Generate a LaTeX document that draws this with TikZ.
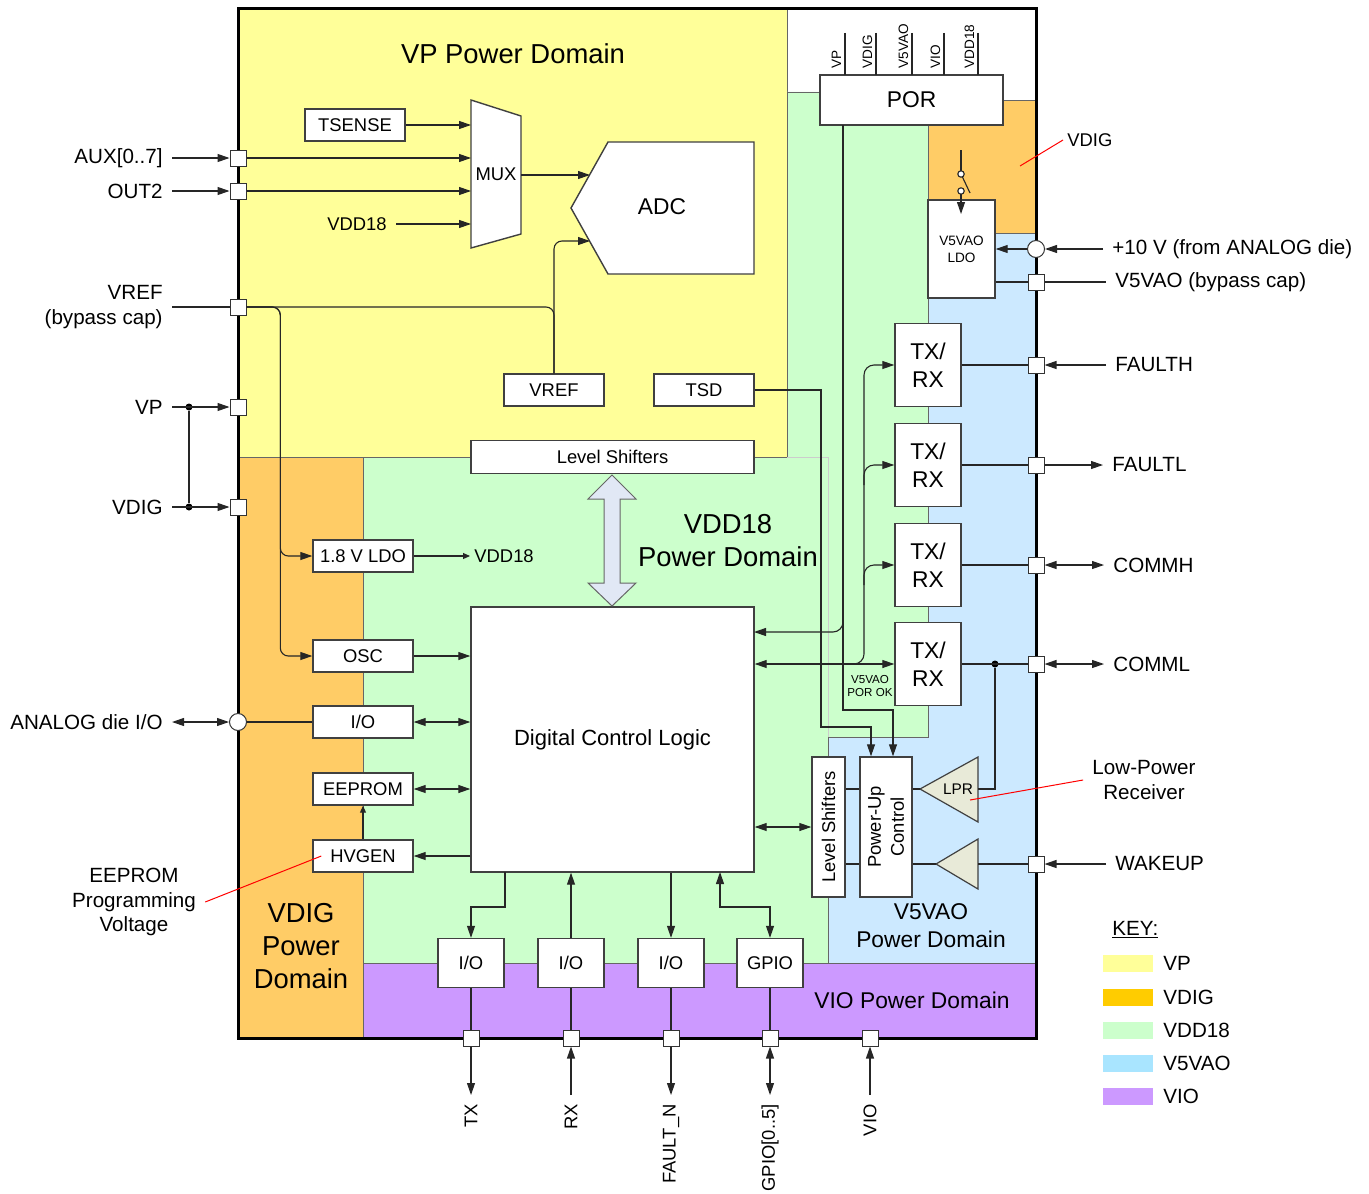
\documentclass[tikz,border=0pt]{standalone}
\usepackage{fontspec}
\setmainfont{Liberation Sans}
\usetikzlibrary{arrows.meta,calc}

\definecolor{vpY}{HTML}{FFFF99}
\definecolor{vdigO}{HTML}{FFCC66}
\definecolor{vdigK}{HTML}{FFCC00}
\definecolor{vddG}{HTML}{CCFFCC}
\definecolor{vfiveB}{HTML}{CCE9FF}
\definecolor{vfiveK}{HTML}{A9E5FF}
\definecolor{vioP}{HTML}{CC99FF}
\definecolor{lsArrow}{HTML}{E1E8F5}
\definecolor{lprFill}{HTML}{E8EAD8}

\newcommand{\szBox}{\fontsize{9.2pt}{11.5pt}\selectfont}
\newcommand{\szLbl}{\fontsize{10.3pt}{12.4pt}\selectfont}
\newcommand{\szBig}{\fontsize{13.7pt}{16.5pt}\selectfont}
\newcommand{\szMid}{\fontsize{11.4pt}{14pt}\selectfont}
\newcommand{\szDcl}{\fontsize{11pt}{13pt}\selectfont}
\newcommand{\szTiny}{\fontsize{6.8pt}{8.5pt}\selectfont}
\newcommand{\szMicro}{\fontsize{5.8pt}{6.6pt}\selectfont}
\newcommand{\szLpr}{\fontsize{7.7pt}{9pt}\selectfont}

\begin{document}
\begin{tikzpicture}[x=0.5pt, y=-0.5pt,
  >={Triangle[length=6pt,width=4pt]},
  wire/.style={line width=0.55pt, black!85},
  box/.style={draw=black!75, fill=white, line width=0.7pt, inner sep=0pt,
    font=\szBox, minimum width=50pt, minimum height=16pt, align=center},
  pad/.style={draw=black!80, fill=white, line width=0.5pt, inner sep=0pt, minimum size=8pt},
  cpad/.style={pad, circle, minimum size=8.5pt},
  lbl/.style={font=\szLbl, inner sep=4.5pt, align=center},
  zone/.style={draw=black!60, line width=0.4pt},
  swatch/.style={minimum width=25pt, minimum height=8.5pt, inner sep=0pt},
  redline/.style={red, line width=0.5pt},
  jdot/.style={circle, fill=black, inner sep=0pt, minimum size=3.5pt},
  small tip/.style={-{Triangle[length=3.5pt,width=3pt]}}
]
  \useasboundingbox (0,0) rectangle (1369,1193);

  % Power domains
  \fill[white] (238,9) rectangle (1036,1038);
  \filldraw[zone, fill=vpY] (238,9) rectangle (787,457);
  \filldraw[zone, fill=vddG] (363,457) -- (787,457) -- (787,92) -- (928,92) -- (928,737)
    -- (828,737) -- (828,963) -- (363,963) -- cycle;
  \filldraw[zone, fill=vdigO] (928,100) rectangle (1036,233);
  \filldraw[zone, fill=vdigO] (238,457) rectangle (363,1038);
  \filldraw[zone, fill=vfiveB] (928,233) -- (1036,233) -- (1036,963) -- (828,963)
    -- (828,737) -- (928,737) -- cycle;
  \filldraw[zone, fill=vioP] (363,963) rectangle (1036,1038);
  \draw[black!20] (787,457) -- (828,457) -- (828,737);
  \draw[line width=1.5pt] (238,9) rectangle (1036,1038);

  % Domain titles
  \node[font=\szBig] (tVP) at (513,54) {VP Power Domain};
  \node[font=\szBig, align=center] (tVDD) at (728,541) {VDD18\\Power Domain};
  \node[font=\szBig, align=center] (tVDIG) at (301,946) {VDIG\\Power\\Domain};
  \node[font=\szMid, align=center] (tVFIVE) at (931,926) {V5VAO\\Power Domain};
  \node[font=\szMid] (tVIO) at (912,1000) {VIO Power Domain};

  % MUX and ADC
  \filldraw[draw=black!75, fill=white, line width=0.7pt]
    (471,100) -- (521,116) -- (521,234) -- (471,248) -- cycle;
  \node[font=\szBox] (mux) at (496,174) {MUX};
  \coordinate (muxW) at (471,174);
  \coordinate (muxE) at (521,175);
  \filldraw[draw=black!75, fill=white, line width=0.7pt]
    (571,208) -- (608,142) -- (754,142) -- (754,274) -- (608,274) -- cycle;
  \node[font=\szMid] (adc) at (662,207) {ADC};
  \coordinate (adcA) at (590,175);
  \coordinate (adcB) at (590,241);

  % Blocks
  \node[box] (tsense) at (355,125) {TSENSE};
  \node[box] (vref) at (554,390) {VREF};
  \node[box] (tsd) at (704,390) {TSD};
  \node[box, minimum width=141.5pt, minimum height=16.5pt] (lsTop) at (612.5,457) {Level Shifters};
  \node[box, minimum width=141.5pt, minimum height=132.5pt, font=\szDcl] (dcl) at (612.5,739.5) {Digital Control Logic};
  \node[box] (ldo) at (363,556) {1.8 V LDO};
  \node[box] (osc) at (363,656) {OSC};
  \node[box] (io) at (363,722) {I/O};
  \node[box] (eeprom) at (363,789) {EEPROM};
  \node[box] (hvgen) at (363,856) {HVGEN};
  \node[box, font=\szMid, minimum width=91.5pt, minimum height=25pt] (por) at (911.5,100) {POR};
  \node[box, font=\szTiny, minimum width=33.5pt, minimum height=49pt] (ldoFive) at (961.5,249) {V5VAO\\LDO};
  \foreach \i/\y in {1/365, 2/465, 3/565, 4/664} {
    \node[box, font=\szMid, minimum width=33pt, minimum height=41.5pt] (txrx\i) at (928,\y) {TX/\\RX};
  }
  \node[box, minimum width=16.5pt, minimum height=70pt] (lsSide) at (828.5,827) {};
  \node[rotate=90, font=\szBox] (lsSideT) at (lsSide) {Level Shifters};
  \node[box, minimum width=26pt, minimum height=70pt] (puc) at (886,827) {};
  \node[rotate=90, font=\szBox, align=center] (pucT) at (puc) {Power-Up\\Control};

  % Receivers
  \filldraw[draw=black!75, fill=lprFill, line width=0.6pt] (920,789) -- (978,757) -- (978,822) -- cycle;
  \node[font=\szLpr] (lpr) at (958,789) {LPR};
  \coordinate (lprTip) at (920,789);
  \coordinate (lprBase) at (978,789);
  \filldraw[draw=black!75, fill=lprFill, line width=0.6pt] (936,864) -- (978,839) -- (978,889) -- cycle;
  \coordinate (wkTip) at (936,864);
  \coordinate (wkBase) at (978,864);

  % Level shifter arrow
  \filldraw[draw=black!60, fill=lsArrow, line width=0.5pt]
    (612,475) -- (636,499) -- (620,499) -- (620,583) -- (636,583) -- (612,606)
    -- (588,583) -- (604,583) -- (604,499) -- (588,499) -- cycle;

  % Left pins
  \node[pad] (pAux) at (238,158) {};
  \node[pad] (pOut) at (238,191) {};
  \node[pad] (pVref) at (238,307) {};
  \node[pad] (pVP) at (238,407) {};
  \node[pad] (pVdig) at (238,507) {};
  \node[cpad] (pAna) at (238,722) {};
  \node[lbl, anchor=east] (lAux) at (172,158) {AUX[0..7]};
  \node[lbl, anchor=east] (lOut) at (172,191) {OUT2};
  \node[lbl, anchor=east, align=right] (lVref) at (172,307) {VREF\\(bypass cap)};
  \node[lbl, anchor=east] (lVP) at (172,407) {VP};
  \node[lbl, anchor=east] (lVdig) at (172,507) {VDIG};
  \node[lbl, anchor=east] (lAna) at (172,722) {ANALOG die I/O};
  \node[jdot] (jVP) at (189,407) {};
  \node[jdot] (jVdig) at (189,507) {};

  \draw[wire,->] (lAux) -- (pAux);
  \draw[wire,->] (lOut) -- (pOut);
  \draw[wire] (lVref) -- (pVref);
  \draw[wire,->] (lVP) -- (pVP);
  \draw[wire,->] (lVdig) -- (pVdig);
  \draw[wire] (jVP) -- (jVdig);
  \draw[wire,<->] (lAna) -- (pAna);

  % VP domain wiring
  \node[lbl, anchor=east, font=\szBox] (lVdd) at (396,224) {VDD18};
  \draw[wire,->] (tsense) -- (tsense -| muxW);
  \draw[wire,->] (pAux.east) -- (pAux -| muxW);
  \draw[wire,->] (pOut.east) -- (pOut -| muxW);
  \draw[wire,->] (lVdd) -- (lVdd -| muxW);
  \draw[wire,->] (muxE) -- (adcA);
  \draw[wire, rounded corners=4pt] (pVref.east) -| (vref.north);
  \draw[wire, rounded corners=4pt, ->] (vref.north) |- (adcB);
  \draw[wire, rounded corners=4pt, ->] (pVref.east) -| ([xshift=-16pt]ldo.west) -- (ldo.west);
  \draw[wire, rounded corners=4pt, ->] (pVref.east) -| ([xshift=-16pt]osc.west) -- (osc.west);

  % VDIG / VDD18 wiring
  \node[lbl, anchor=west, font=\szBox, inner sep=2pt] (lVddOut) at (470,556) {VDD18};
  \draw[wire, small tip] (ldo) -- (lVddOut);
  \draw[wire,->] (osc) -- (osc -| dcl.west);
  \draw[wire] (pAna) -- (io);
  \draw[wire,<->] (io) -- (io -| dcl.west);
  \draw[wire,<->] (eeprom) -- (eeprom -| dcl.west);
  \draw[wire,->] (hvgen -| dcl.west) -- (hvgen);
  \draw[wire, small tip] (hvgen) -- (eeprom);

  % Bottom I/O
  \foreach \n/\x/\t in {1/471/{I/O}, 2/571/{I/O}, 3/671/{I/O}, 4/770/GPIO} {
    \node[box, minimum width=33pt, minimum height=24.5pt] (bio\n) at (\x,963) {\t};
    \node[pad] (bp\n) at (\x,1038) {};
    \draw[wire] (bio\n.south) -- (bp\n.north);
  }
  \node[pad] (bp5) at (870,1038) {};
  \node[lbl, rotate=90, anchor=east, font=\szBox] (lTX) at (471,1095) {TX};
  \node[lbl, rotate=90, anchor=east, font=\szBox] (lRX) at (571,1095) {RX};
  \node[lbl, rotate=90, anchor=east, font=\szBox] (lFN) at (671,1095) {FAULT\_N};
  \node[lbl, rotate=90, anchor=east, font=\szBox] (lGP) at (770,1095) {GPIO[0..5]};
  \node[lbl, rotate=90, anchor=east, font=\szBox] (lVIO) at (870,1095) {VIO};
  \draw[wire,->] (bp1.south) -- (lTX.east);
  \draw[wire,->] (lRX.east) -- (bp2.south);
  \draw[wire,->] (bp3.south) -- (lFN.east);
  \draw[wire,<->] (bp4.south) -- (lGP.east);
  \draw[wire,->] (lVIO.east) -- (bp5.south);

  \coordinate (tapTX) at (505,872);
  \coordinate (tapGP) at (720,872);
  \draw[wire,->] (tapTX) -- ++(0,35) -| (bio1.north);
  \draw[wire,->] (bio2.north) -- (bio2.north |- dcl.south);
  \draw[wire,->] (bio3.north |- dcl.south) -- (bio3.north);
  \draw[wire,<->] (tapGP) -- ++(0,35) -| (bio4.north);

  % POR supplies
  \foreach \x/\t in {845/VP, 876/VDIG, 912/V5VAO, 944/VIO, 978/VDD18} {
    \draw[wire] (\x,33) -- (\x,75);
    \node[rotate=90, anchor=base west, inner sep=0pt, font=\szTiny] at ({\x-4},69) {\t};
  }

  % POR, TSD and bus wiring
  \coordinate (porTap) at (843,125);
  \coordinate (porDrop) at (843,710);
  \coordinate (porOK) at (754,632);
  \coordinate (tsdDrop) at (821,727);
  \coordinate (busJ) at (864,664);
  \draw[wire,->] (tsd.east) -| (tsdDrop) -| ([xshift=-7.5pt]puc.north);
  \draw[wire,->] (porTap) -- (porDrop) -| ([xshift=3.5pt]puc.north);
  \draw[wire, rounded corners=5pt, ->] (porTap) |- (porOK);
  \node[font=\szMicro, align=center] (lPorOk) at (870,686) {V5VAO\\POR OK};
  \draw[wire,<->] (dcl.east |- txrx4) -- (txrx4);
  \draw[wire, rounded corners=5pt, ->] ([xshift=-10pt]busJ) -| (busJ |- txrx1) -- (txrx1);
  \draw[wire, rounded corners=5pt, ->] ($(busJ |- txrx2)+(0,20)$) |- (txrx2);
  \draw[wire, rounded corners=5pt, ->] ($(busJ |- txrx3)+(0,20)$) |- (txrx3);

  % Power-up path
  \draw[wire,<->] (dcl.east |- lsSide) -- (lsSide);
  \draw[wire] (lsSide.east |- lprTip) -- (puc.west |- lprTip);
  \draw[wire] (lsSide.east |- wkTip) -- (puc.west |- wkTip);
  \draw[wire] (puc.east |- lprTip) -- (lprTip);
  \draw[wire] (puc.east |- wkTip) -- (wkTip);

  % Right pins
  \node[cpad] (pTen) at (1036,249) {};
  \node[pad] (pByp) at (1036,282) {};
  \node[pad] (pFH) at (1036,365) {};
  \node[pad] (pFL) at (1036,465) {};
  \node[pad] (pCH) at (1036,565) {};
  \node[pad] (pCL) at (1036,664) {};
  \node[pad] (pWake) at (1036,864) {};
  \node[lbl, anchor=west] (lTen) at (1103,249) {+10 V (from ANALOG die)};
  \node[lbl, anchor=west] (lByp) at (1106,282) {V5VAO (bypass cap)};
  \node[lbl, anchor=west] (lFH) at (1106,365) {FAULTH};
  \node[lbl, anchor=west] (lFL) at (1103,465) {FAULTL};
  \node[lbl, anchor=west] (lCH) at (1104,565) {COMMH};
  \node[lbl, anchor=west] (lCL) at (1104,664) {COMML};
  \node[lbl, anchor=west] (lWake) at (1106,864) {WAKEUP};
  \node[jdot] (jCL) at (995,664) {};

  \draw[wire,->] (lTen) -- (pTen);
  \draw[wire,->] (pTen) -- (pTen -| ldoFive.east);
  \draw[wire] (pByp -| ldoFive.east) -- (pByp) -- (lByp);
  \draw[wire] (txrx1) -- (pFH);
  \draw[wire,->] (lFH) -- (pFH);
  \draw[wire] (txrx2) -- (pFL);
  \draw[wire,->] (pFL) -- (lFL);
  \draw[wire] (txrx3) -- (pCH);
  \draw[wire,<->] (pCH) -- (lCH);
  \draw[wire] (txrx4) -- (pCL);
  \draw[wire,<->] (pCL) -- (lCL);
  \draw[wire] (lprBase) -| (jCL);
  \draw[wire] (wkBase) -- (pWake);
  \draw[wire,->] (lWake) -- (pWake);

  % VDIG switch
  \coordinate (swTop) at (961,150);
  \coordinate (swA) at (961,174);
  \coordinate (swB) at (961,191);
  \draw[wire] (swTop) -- ([yshift=1.5pt]swA);
  \draw[wire] (swA) -- (970,193);
  \draw[wire, fill=white] (swA) circle (1.6pt);
  \draw[wire, fill=white] (swB) circle (1.6pt);
  \draw[wire,->] ([yshift=-1.6pt]swB) -- (961,214);

  % Callouts
  \node[lbl, anchor=west, font=\szBox, inner sep=2pt] (lVdigR) at (1063,140) {VDIG};
  \draw[redline] (lVdigR.west) -- (1020,166);
  \node[lbl] (lLpr) at (1144,780) {Low-Power\\Receiver};
  \draw[redline] (lLpr.west) -- (970,800);
  \node[lbl] (lEpv) at (134,902) {EEPROM\\Programming\\Voltage};
  \draw[redline] (lEpv.east) -- ([xshift=4.5pt]hvgen.west);

  % Legend
  \node[font=\szLbl, anchor=west, inner sep=0pt] (key) at (1112,930) {\underline{KEY:}};
  \foreach \c/\t/\y in {vpY/VP/963, vdigK/VDIG/997, vddG/VDD18/1030, vfiveK/V5VAO/1063, vioP/VIO/1096} {
    \node[swatch, fill=\c] (k\t) at (1128,\y) {};
    \node[font=\szLbl, anchor=west, inner sep=0pt] (kl\t) at (1163,\y) {\t};
  }
\end{tikzpicture}
\end{document}
